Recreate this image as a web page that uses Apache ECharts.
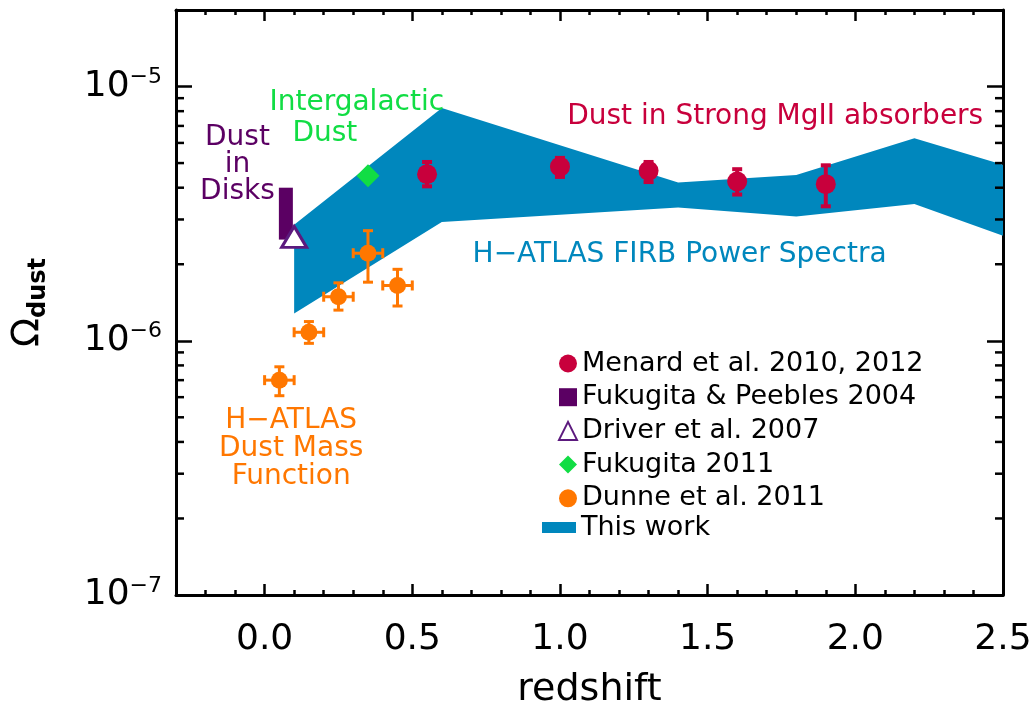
<!DOCTYPE html>
<html><head><meta charset="utf-8">
<script src="https://cdn.jsdelivr.net/npm/echarts@6/dist/echarts.min.js"></script>
<style>html,body{margin:0;padding:0;background:#fff}#c{width:1036px;height:706px}</style>
</head><body><div id="c"></div>
<script>
// ---------- data ----------
// Menard et al. 2010, 2012
const menardZ     = [0.55, 1.0, 1.3, 1.6, 1.9];
const menardOmega = [4.52e-6, 4.84e-6, 4.66e-6, 4.23e-6, 4.13e-6];
const menardLo    = [4.05e-6, 4.41e-6, 4.21e-6, 3.76e-6, 3.38e-6];
const menardHi    = [5.05e-6, 5.24e-6, 5.05e-6, 4.73e-6, 4.90e-6];
// Fukugita & Peebles 2004 (range)
const fp04Z     = [0.072];
const fp04Lo    = [2.5e-6];
const fp04Hi    = [4.0e-6];
// Driver et al. 2007
const driverZ     = [0.1];
const driverOmega = [2.56e-6];
// Fukugita 2011
const fuk11Z     = [0.35];
const fuk11Omega = [4.46e-6];
// Dunne et al. 2011
const dunneZ     = [0.05, 0.15, 0.25, 0.35, 0.45];
const dunneOmega = [7.0e-7, 1.08e-6, 1.49e-6, 2.21e-6, 1.65e-6];
const dunneLo    = [6.08e-7, 9.77e-7, 1.32e-6, 1.70e-6, 1.37e-6];
const dunneHi    = [7.9e-7, 1.19e-6, 1.69e-6, 2.71e-6, 1.91e-6];
const dunneZLo   = [0.0, 0.1, 0.2, 0.3, 0.4];
const dunneZHi   = [0.1, 0.2, 0.3, 0.4, 0.5];
// This work (H-ATLAS FIRB power spectra band)
const bandZ  = [0.1, 0.6, 1.4, 1.8, 2.2, 2.5];
const bandLo = [1.28e-6, 2.93e-6, 3.34e-6, 3.08e-6, 3.45e-6, 2.59e-6];
const bandHi = [2.86e-6, 8.24e-6, 4.19e-6, 4.49e-6, 6.26e-6, 4.92e-6];
// annotation texts and their anchor (redshift, Omega)
const annotText  = ['Dust in Strong MgII absorbers', 'H\u2212ATLAS FIRB Power Spectra', 'Dust\nin\nDisks', 'Intergalactic', 'Dust', 'H\u2212ATLAS\nDust Mass\nFunction'];
const annotZ     = [2.433, 1.405, -0.092, 0.312, 0.204, 0.09];
const annotOmega = [7.59e-6, 2.18e-6, 4.92e-6, 8.66e-6, 6.51e-6, 3.76e-7];
// axis ranges
const xRange = [-0.3, 2.5];
const yRange = [1e-7, 2e-5];

// ---------- styles ----------
const FONT = 'DejaVu Sans';
const C_MEN = '#C8003C', C_FP = '#5B0063', C_DRV = '#5C1A7E', C_GRN = '#11DD44', C_ORG = '#FF7700', C_BLU = '#0087BD';
const annotColor = [C_MEN, C_BLU, C_FP, C_GRN, C_GRN, C_ORG];
const annotAlign = ['right', 'center', 'center', 'center', 'center', 'center'];
const annotLH    = [27, 27, 27, 27, 27, 28];

// minor ticks of the log axis (2..9 per decade)
const yMinor = [];
for (let e = -7; e <= -5; e++) for (let m = 2; m <= 9; m++) { const v = m * Math.pow(10, e); if (v < yRange[1]) yMinor.push(v); }

const chart = echarts.init(document.getElementById('c'), null, {renderer: 'canvas'});

function errRender(xs, lo, hi, xlo, xhi, color, lw, cap) {
  return function (params, api) {
    const i = params.dataIndex;
    const t = api.coord([xs[i], hi[i]]), b = api.coord([xs[i], lo[i]]);
    const st = {stroke: color, lineWidth: lw};
    const ch = [
      {type: 'line', shape: {x1: t[0], y1: t[1], x2: b[0], y2: b[1]}, style: st},
      {type: 'line', shape: {x1: t[0] - cap / 2, y1: t[1], x2: t[0] + cap / 2, y2: t[1]}, style: st},
      {type: 'line', shape: {x1: b[0] - cap / 2, y1: b[1], x2: b[0] + cap / 2, y2: b[1]}, style: st}
    ];
    if (xlo) {
      const yc = api.coord([xs[i], api.value(1)])[1];
      const l = api.coord([xlo[i], 1e-6])[0], r = api.coord([xhi[i], 1e-6])[0];
      ch.push({type: 'line', shape: {x1: l, y1: yc, x2: r, y2: yc}, style: st});
      ch.push({type: 'line', shape: {x1: l, y1: yc - cap / 2, x2: l, y2: yc + cap / 2}, style: st});
      ch.push({type: 'line', shape: {x1: r, y1: yc - cap / 2, x2: r, y2: yc + cap / 2}, style: st});
    }
    return {type: 'group', children: ch};
  };
}

const axisLineStyle = {color: '#000', width: 3};
const tickStyle = {color: '#000', width: 2.5};

const option = {
  animation: false,
  backgroundColor: '#fff',
  grid: {left: 176, right: 33, top: 10, bottom: 111, containLabel: false, outerBoundsMode: 'none'},
  xAxis: [
    {type: 'value', min: xRange[0], max: xRange[1], position: 'bottom',
     axisLine: {show: true, onZero: false, lineStyle: axisLineStyle},
     axisTick: {show: true, inside: true, length: 11, lineStyle: tickStyle},
     minorTick: {show: true, splitNumber: 5, length: 5, lineStyle: tickStyle},
     splitLine: {show: false},
     axisLabel: {margin: 27, fontSize: 36, fontFamily: FONT, color: '#000',
       formatter: v => Math.abs(v * 2 - Math.round(v * 2)) > 1e-6 ? '' : v.toFixed(1)},
     name: 'redshift', nameLocation: 'middle', nameGap: 76,
     nameTextStyle: {fontSize: 38, fontFamily: FONT, color: '#000'}},
    {type: 'value', min: xRange[0], max: xRange[1], position: 'top',
     axisLine: {show: true, onZero: false, lineStyle: axisLineStyle},
     axisTick: {show: true, inside: true, length: 11, lineStyle: tickStyle},
     minorTick: {show: true, splitNumber: 5, length: 5, lineStyle: tickStyle},
     splitLine: {show: false}, axisLabel: {show: false}}
  ],
  yAxis: [
    {type: 'log', logBase: 10, min: yRange[0], max: yRange[1], position: 'left',
     axisLine: {show: true, onZero: false, lineStyle: axisLineStyle},
     axisTick: {show: true, inside: true, length: 16, lineStyle: tickStyle},
     splitLine: {show: false},
     axisLabel: {margin: 14, align: 'right',
       formatter: v => { const e = Math.log10(v); const r = Math.round(e); if (Math.abs(e - r) > 1e-6) return ''; return '{b|10}{e|\u2212' + Math.abs(r) + '}'; },
       rich: {b: {fontSize: 36, fontFamily: FONT, color: '#000', lineHeight: 40, verticalAlign: 'middle'},
              e: {fontSize: 22, fontFamily: FONT, color: '#000', lineHeight: 20, verticalAlign: 'top'}}},
     name: '{o|\u03A9}{s|dust}', nameLocation: 'middle', nameGap: 125, nameRotate: 90,
     nameTextStyle: {rich: {o: {fontSize: 38, fontFamily: FONT, color: '#000', lineHeight: 46, verticalAlign: 'middle'},
                            s: {fontSize: 24, fontFamily: FONT, fontWeight: 'bold', color: '#000', lineHeight: 12, verticalAlign: 'bottom'}}}},
    {type: 'log', logBase: 10, min: yRange[0], max: yRange[1], position: 'right',
     axisLine: {show: true, onZero: false, lineStyle: axisLineStyle},
     axisTick: {show: true, inside: true, length: 16, lineStyle: tickStyle},
     splitLine: {show: false}, axisLabel: {show: false}}
  ],
  legend: [
    {orient: 'vertical', left: 553, top: 345, itemWidth: 18, itemHeight: 18, itemGap: 6.7, itemTextGap: 12,
     selectedMode: false, textStyle: {fontSize: 27, fontFamily: FONT, color: '#000', lineHeight: 26},
     data: [{name: 'Menard et al. 2010, 2012', icon: 'circle'},
            {name: 'Fukugita & Peebles 2004', icon: 'rect'},
            {name: 'Driver et al. 2007', icon: 'triangle'},
            {name: 'Fukugita 2011', icon: 'diamond'},
            {name: 'Dunne et al. 2011', icon: 'circle'}]},
    {orient: 'vertical', left: 537, top: 509, itemWidth: 34, itemHeight: 11, itemTextGap: 12,
     selectedMode: false, textStyle: {fontSize: 27, fontFamily: FONT, color: '#000', lineHeight: 26},
     data: [{name: 'This work', icon: 'rect'}]}
  ],
  series: [
    {type: 'custom', name: 'This work', xAxisIndex: 0, yAxisIndex: 0,
     data: bandZ.map((z, i) => [z, bandLo[i], bandHi[i]]), encode: {x: 0, y: [1, 2]},
     itemStyle: {color: C_BLU}, z: 1,
     renderItem: (params, api) => {
       if (params.dataIndex !== 0) return null;
       const pts = [];
       for (let i = 0; i < bandZ.length; i++) pts.push(api.coord([bandZ[i], bandHi[i]]));
       for (let i = bandZ.length - 1; i >= 0; i--) pts.push(api.coord([bandZ[i], bandLo[i]]));
       return {type: 'polygon', shape: {points: pts}, style: {fill: C_BLU}};
     }},
    {type: 'custom', name: 'ytickminor', xAxisIndex: 0, yAxisIndex: 0, silent: true, z: 5,
     data: yMinor.map(v => [0, v]), encode: {x: 0, y: 1},
     renderItem: (params, api) => {
       const cs = params.coordSys;
       const y = api.coord([0, api.value(1)])[1];
       const st = {stroke: '#000', lineWidth: 2.5};
       return {type: 'group', children: [
         {type: 'line', shape: {x1: cs.x, y1: y, x2: cs.x + 8, y2: y}, style: st},
         {type: 'line', shape: {x1: cs.x + cs.width - 8, y1: y, x2: cs.x + cs.width, y2: y}, style: st}]};
     }},
    {type: 'custom', name: 'annotations', xAxisIndex: 0, yAxisIndex: 0, silent: true, z: 4,
     data: annotZ.map((z, i) => [z, annotOmega[i]]), encode: {x: 0, y: 1},
     renderItem: (params, api) => {
       const i = params.dataIndex;
       const p = api.coord([annotZ[i], annotOmega[i]]);
       return {type: 'text', x: p[0], y: p[1],
         style: {text: annotText[i], fill: annotColor[i], fontSize: 28, fontFamily: FONT,
                 align: annotAlign[i], verticalAlign: 'middle', lineHeight: annotLH[i]}};
     }},
    {type: 'custom', name: 'Fukugita & Peebles 2004', xAxisIndex: 0, yAxisIndex: 0, z: 2,
     data: fp04Z.map((z, i) => [z, fp04Lo[i], fp04Hi[i]]), encode: {x: 0, y: [1, 2]},
     itemStyle: {color: C_FP},
     renderItem: (params, api) => {
       const i = params.dataIndex;
       const t = api.coord([fp04Z[i], fp04Hi[i]]), b = api.coord([fp04Z[i], fp04Lo[i]]);
       return {type: 'rect', shape: {x: t[0] - 7, y: t[1], width: 14, height: b[1] - t[1]}, style: {fill: C_FP}};
     }},
    {type: 'scatter', name: 'Driver et al. 2007', z: 3, symbol: 'triangle', symbolSize: [25, 21],
     data: driverZ.map((z, i) => [z, driverOmega[i]]),
     itemStyle: {color: '#fff', borderColor: C_DRV, borderWidth: 3, opacity: 1}},
    {type: 'scatter', name: 'Fukugita 2011', z: 3, symbol: 'diamond', symbolSize: 23,
     data: fuk11Z.map((z, i) => [z, fuk11Omega[i]]), itemStyle: {color: C_GRN, opacity: 1}},
    {type: 'custom', name: 'menardErr', xAxisIndex: 0, yAxisIndex: 0, z: 3, silent: true,
     data: menardZ.map((z, i) => [z, menardOmega[i]]), encode: {x: 0, y: 1},
     renderItem: errRender(menardZ, menardLo, menardHi, null, null, C_MEN, 4, 10)},
    {type: 'scatter', name: 'Menard et al. 2010, 2012', z: 3, symbol: 'circle', symbolSize: 20,
     data: menardZ.map((z, i) => [z, menardOmega[i]]), itemStyle: {color: C_MEN, opacity: 1}},
    {type: 'custom', name: 'dunneErr', xAxisIndex: 0, yAxisIndex: 0, z: 3, silent: true,
     data: dunneZ.map((z, i) => [z, dunneOmega[i]]), encode: {x: 0, y: 1},
     renderItem: errRender(dunneZ, dunneLo, dunneHi, dunneZLo, dunneZHi, C_ORG, 3, 10)},
    {type: 'scatter', name: 'Dunne et al. 2011', z: 3, symbol: 'circle', symbolSize: 17,
     data: dunneZ.map((z, i) => [z, dunneOmega[i]]), itemStyle: {color: C_ORG, opacity: 1}}
  ]
};
chart.setOption(option);
</script>
</body></html>
